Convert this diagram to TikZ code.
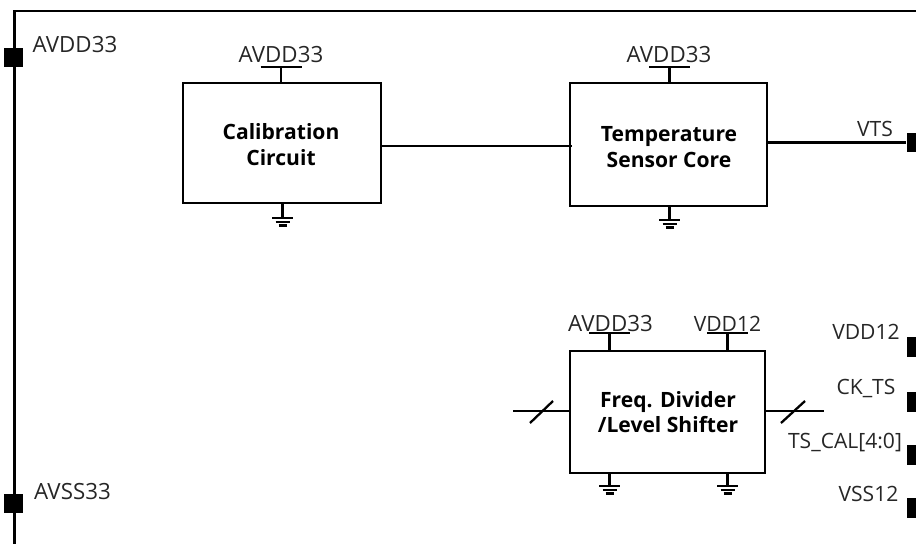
\documentclass[tikz,border=0pt]{standalone}
\usepackage{fontspec}
\setmainfont{Open Sans}
\usetikzlibrary{calc}

\tikzset{
    wire/.style={line width=1.3pt},
    blockbox/.style={draw, line width=1.3pt, inner sep=0pt},
    blocktext/.style={inner sep=0pt, font=\fontsize{12}{14.5}\selectfont\bfseries},
    padbox/.style={fill=black, inner sep=0pt, minimum width=0.38cm, minimum height=0.38cm},
    sidepad/.style={fill=black, inner sep=0pt, minimum width=0.18cm, minimum height=0.4cm},
    sig/.style={anchor=base, inner sep=0pt, font=\fontsize{12}{14}\selectfont, text=black!85},
    sigwide/.style={sig, font=\fontsize{12.7}{14}\selectfont}
}

\begin{document}
\begin{tikzpicture}[x=0.02cm, y=-0.02cm]
    \useasboundingbox (0, 0) rectangle (916, 544);

    % frame
    \coordinate (frametl) at (14.5, 11);
    \coordinate (frametr) at (916, 11);
    \coordinate (framebl) at (14.5, 544);
    \draw[wire] (framebl) -- (frametl) -- (frametr);

    % pads
    \node[padbox] (padavdd) at (13.5, 57.5) {};
    \node[padbox] (padavss) at (13.5, 503.5) {};
    \node[sidepad] (padvts) at (911, 142.5) {};
    \node[sidepad] (padvdd) at (911, 346.5) {};
    \node[sidepad] (padck) at (911, 401.5) {};
    \node[sidepad] (padcal) at (911, 454.5) {};
    \node[sidepad] (padvss) at (911, 507.5) {};

    % blocks
    \node[blockbox, minimum width=3.96cm, minimum height=2.4cm] (calib) at (282, 143) {};
    \node[blockbox, minimum width=3.94cm, minimum height=2.46cm] (core) at (668.5, 144.5) {};
    \node[blockbox, minimum width=3.9cm, minimum height=2.44cm] (divider) at (667.5, 412) {};
    \node[blocktext] (calibtext) at ($(calib)+(-1, 4.5)$)
        {\begin{tabular}{@{}c@{}}Calibration\\Circuit\end{tabular}};
    \node[blocktext] (coretext) at ($(core)+(0.5, 5)$)
        {\begin{tabular}{@{}c@{}}Temperature\\Sensor Core\end{tabular}};
    \node[blocktext] (dividertext) at ($(divider)+(0.5, 3)$)
        {\begin{tabular}{@{}c@{}}Freq. Divider\\/Level Shifter\end{tabular}};

    % wires between blocks
    \draw[wire] (calib.east |- 0, 146) -- ([xshift=0.06cm]core.west |- 0, 146);
    \coordinate (vtsend) at (padvts.west);
    \draw[wire] (core.east |- vtsend) -- (vtsend);

    % bus stubs with slashes
    \coordinate (busin) at (513, 411);
    \coordinate (busout) at (824, 411);
    \draw[wire] (busin) -- ([xshift=0.05cm]divider.west |- busin);
    \draw[wire] (divider.east |- busout) -- (busout);
    \draw[wire] ($(busin)+(17, 12)$) -- ($(busin)+(40, -10)$);
    \draw[wire] ($(busout)+(-43, 12)$) -- ($(busout)+(-19, -10)$);

    % supply bars
    \coordinate (calibvdd) at (281, 67);
    \coordinate (corevdd) at (669.5, 67);
    \coordinate (divavdd) at (609.5, 333);
    \coordinate (divvdd) at (727.5, 333);
    \foreach \p/\b in {calibvdd/calib, corevdd/core, divavdd/divider, divvdd/divider} {
        \draw[wire] (\p) -- (\p |- \b.north);
        \draw[wire] ($(\p)+(-20.5, 0)$) -- ($(\p)+(20.5, 0)$);
    }

    % grounds
    \coordinate (calibgnd) at (282.5, 218);
    \coordinate (coregnd) at (669.5, 220);
    \coordinate (divgnda) at (609.5, 486);
    \coordinate (divgndb) at (727.5, 486);
    \foreach \p/\b in {calibgnd/calib, coregnd/core, divgnda/divider, divgndb/divider} {
        \draw[wire] (\p) -- (\p |- \b.south);
        \draw[wire] ($(\p)+(-10.5, 0)$) -- ($(\p)+(10.5, 0)$);
        \draw[wire] ($(\p)+(-7, 4)$) -- ($(\p)+(7, 4)$);
        \draw[wire] ($(\p)+(-4, 7.5)$) -- ($(\p)+(4, 7.5)$);
    }

    % labels
    \node[sigwide] (lblavdd) at (75, 53) {AVDD33};
    \node[sigwide] (lblavss) at (72.5, 499) {AVSS33};
    \node[sigwide] (lblcalib) at (281, 63) {AVDD33};
    \node[sigwide] (lblcore) at (669, 63) {AVDD33};
    \node[sigwide] (lbldiva) at (610.5, 331) {AVDD33};
    \node[sig] (lbldivb) at (727.5, 331) {VDD12};
    \node[sig] (lblvts) at (875, 136) {VTS};
    \node[sig] (lblvdd) at (866, 339) {VDD12};
    \node[sig] (lblck) at (866, 394) {CK\_TS};
    \node[sig] (lblcal) at (845, 448) {TS\_CAL[4:0]};
    \node[sig] (lblvss) at (868.5, 501) {VSS12};
\end{tikzpicture}
\end{document}
